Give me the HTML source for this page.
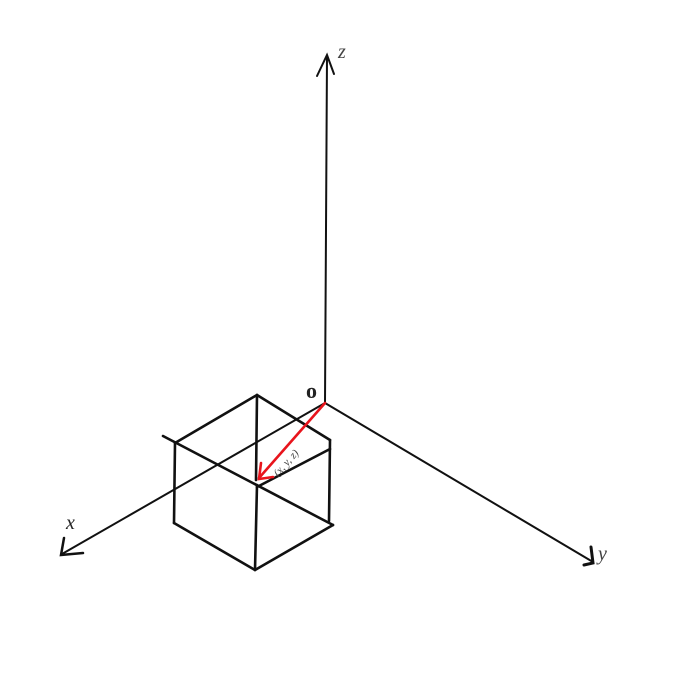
<!DOCTYPE html>
<html><head><meta charset="utf-8"><style>html,body{margin:0;padding:0;background:#fff}svg{display:block}</style></head>
<body>
<svg width="700" height="700" viewBox="0 0 700 700">
<rect width="700" height="700" fill="#fff"/>
<g stroke="#111" stroke-width="2" fill="none" stroke-linecap="round">
  <line x1="325" y1="403" x2="327" y2="56"/>
  <polyline points="317,76 327,55 334,74"/>
  <line x1="325" y1="403" x2="593" y2="562"/>
  <polyline points="591,547 593,563 584,565" stroke-width="3"/>
  <line x1="325" y1="403" x2="62" y2="554"/>
  <polyline points="64,538 61,555 83,553" stroke-width="2.5"/>
</g>
<g stroke="#111" stroke-width="2.6" fill="none" stroke-linecap="round">
  <line x1="163" y1="436" x2="333" y2="525"/>
  <line x1="175" y1="443" x2="257" y2="395"/>
  <line x1="257" y1="395" x2="330" y2="440"/>
  <line x1="330" y1="449" x2="257" y2="487"/>
  <line x1="175" y1="443" x2="174" y2="523"/>
  <line x1="330" y1="440" x2="329" y2="521"/>
  <line x1="257" y1="395" x2="256" y2="480"/>
  <line x1="257" y1="485" x2="255" y2="570"/>
  <line x1="174" y1="523" x2="255" y2="570"/>
  <line x1="255" y1="570" x2="333" y2="525"/>
</g>
<g stroke="#e8141c" stroke-width="2.6" fill="none" stroke-linecap="round">
  <line x1="325" y1="403" x2="259" y2="478"/>
  <polyline points="261,463 259,479 273,477"/>
</g>
<g font-family="Liberation Serif, serif" font-style="italic" fill="#444">
  <text x="338" y="58" font-size="20">z</text>
  <text x="66" y="529" font-size="20" fill="#222">x</text>
  <text x="598" y="560" font-size="20">y</text>
  <text x="306" y="398" font-size="22" font-weight="bold" font-style="normal" fill="#222">o</text>
  <text x="0" y="0" font-size="11" transform="translate(278,477) rotate(-48)">(x, y, z)</text>
</g>
</svg>
</body></html>
